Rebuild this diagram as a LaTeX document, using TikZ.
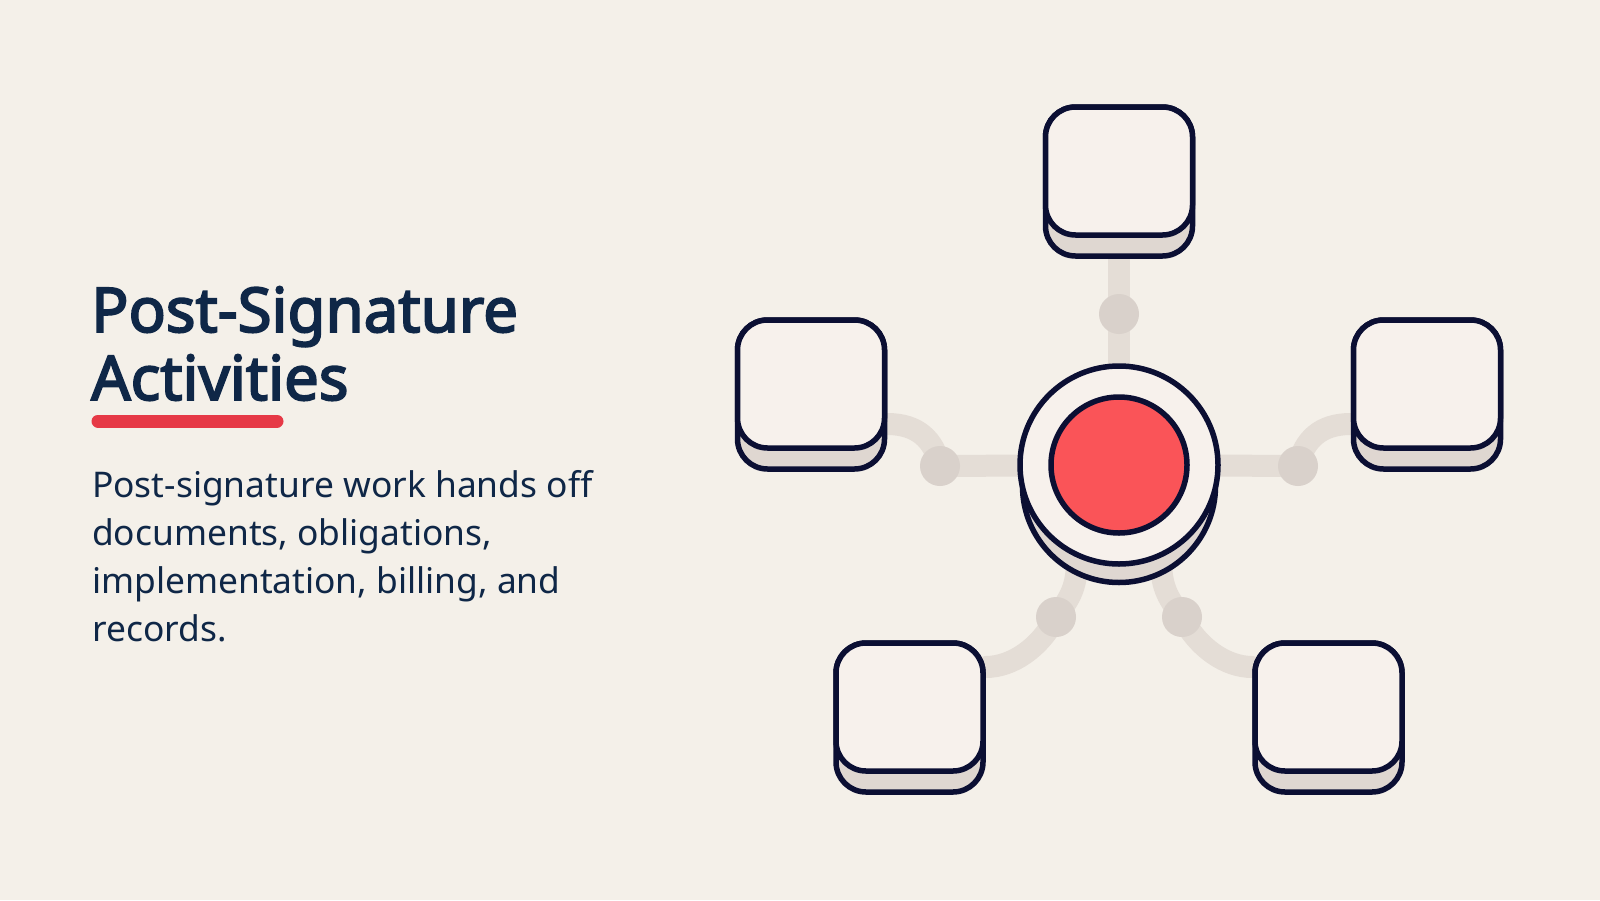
\documentclass[tikz,border=0pt]{standalone}
\usepackage{fontspec}
\setmainfont{Noto Sans}
\newfontfamily\headfont[FakeBold=3]{Noto Sans}
\pgfdeclarelayer{bg}
\pgfsetlayers{bg,main}
\definecolor{bgc}{HTML}{F4F0E9}
\definecolor{titlec}{HTML}{0F2747}
\definecolor{redline}{HTML}{E63946}
\definecolor{facec}{HTML}{F7F1EC}
\definecolor{basec}{HTML}{DFD7D1}
\definecolor{outc}{HTML}{0B0F33}
\definecolor{linec}{HTML}{E4DDD6}
\definecolor{dotc}{HTML}{D9D1CB}
\definecolor{hubred}{HTML}{FA5458}
\tikzset{
  boxface/.style={draw=outc, line width=5.5bp, fill=facec, rounded corners=30bp,
    minimum width=147bp, minimum height=128bp, inner sep=0pt, shape=rectangle},
  boxbase/.style={draw=outc, line width=5.5bp, fill=basec, rounded corners=30bp,
    minimum width=147bp, minimum height=149bp, inner sep=0pt, shape=rectangle},
  link/.style={draw=linec, line width=22bp, line cap=round},
  joint/.style={circle, fill=dotc, minimum size=40bp, inner sep=0pt},
  titletext/.style={anchor=base west, inner sep=0pt, text=titlec,
    font=\fontsize{62}{68}\headfont},
  bodytext/.style={anchor=base west, inner sep=0pt, text=titlec,
    font=\fontsize{35.5}{48}\selectfont}
}
\begin{document}
\begin{tikzpicture}[x=1bp,y=-1bp]
\useasboundingbox (0,0) rectangle (1600,900);
\begin{pgfonlayer}{bg}
  \fill[bgc] (0,0) rectangle (1600,900);
\end{pgfonlayer}

% text
\node[titletext] (t1) at (91,332) {Post-Signature};
\node[titletext] (t2) at (91,400) {Activities};
\draw[redline, line width=13bp, line cap=round] (98,421) -- (277,421);
\node[bodytext] (b1) at (92,497) {Post-signature work hands off};
\node[bodytext] (b2) at (92,545) {documents, obligations,};
\node[bodytext] (b3) at (92,593) {implementation, billing, and};
\node[bodytext] (b4) at (92,641) {records.};

% boxes (base, then face)
\node[boxbase] (topb) at (1119,181.5) {};
\node[boxface] (top) at (1119,171) {};
\node[boxbase] (leftb) at (811,394.5) {};
\node[boxface] (left) at (811,384) {};
\node[boxbase] (rightb) at (1427,394.5) {};
\node[boxface] (right) at (1427,384) {};
\node[boxbase] (blb) at (909.5,717.5) {};
\node[boxface] (bl) at (909.5,707) {};
\node[boxbase] (brb) at (1328.5,717.5) {};
\node[boxface] (br) at (1328.5,707) {};

% hub
\draw[outc, line width=5.5bp, fill=basec] (1022.5,465) -- (1022.5,486)
  arc[start angle=180, end angle=0, radius=96.5] -- (1215.5,465) -- cycle;
\node[circle, draw=outc, line width=5.5bp, fill=facec, minimum size=198bp, inner sep=0pt] (hub) at (1119,465) {};
\node[circle, draw=outc, line width=5.5bp, fill=hubred, minimum size=136bp, inner sep=0pt] (core) at (hub.center) {};

% connectors on background layer
\begin{pgfonlayer}{bg}
  \coordinate (jt) at (1119,314);
  \coordinate (jl) at (940,466);
  \coordinate (jr) at (1298,466);
  \coordinate (jbl) at (1056,617);
  \coordinate (jbr) at (1182,617);
  \draw[link] (hub.center) -- (jt) -- (topb.south);
  \draw[link] (hub.center) -- (jl) .. controls (934,440) and (918,424) .. (left.east |- 0,424);
  \draw[link] (hub.center) -- (jr) .. controls (1304,440) and (1320,424) .. (right.west |- 0,424);
  \draw[link] (hub.center) -- (1077,560) .. controls (1077,590) and (1068,600) .. (jbl)
     .. controls (1040,648) and (1012,667) .. (bl.east |- 0,667);
  \draw[link] (hub.center) -- (1161,560) .. controls (1161,590) and (1170,600) .. (jbr)
     .. controls (1198,648) and (1226,667) .. (br.west |- 0,667);
  \node[joint] (dt) at (jt) {};
  \node[joint] (dl) at (jl) {};
  \node[joint] (dr) at (jr) {};
  \node[joint] (dbl) at (jbl) {};
  \node[joint] (dbr) at (jbr) {};
\end{pgfonlayer}
\end{tikzpicture}
\end{document}
